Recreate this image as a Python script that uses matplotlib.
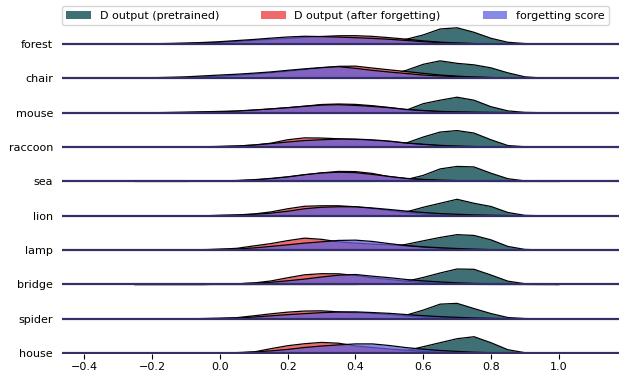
import matplotlib
matplotlib.use("Agg")
import matplotlib.pyplot as plt
from matplotlib.patches import Patch

X_GRID = [-0.25, -0.2, -0.15, -0.1, -0.05, 0.0, 0.05, 0.1, 0.15, 0.2, 0.25, 0.3, 0.35,
          0.4, 0.45, 0.5, 0.55, 0.6, 0.65, 0.7, 0.75, 0.8, 0.85, 0.9, 0.95, 1.0]

CLASSES = ["forest", "chair", "mouse", "raccoon", "sea", "lion", "lamp", "bridge", "spider", "house"]

PRETRAINED = {
    "forest":  [0, 0, 0, 0, 0, 0, 0, 0, 0, 0, 0, 0, 0, 0.2, 0.6, 1.6, 4.7, 9.0, 15.0, 16.2, 11.7, 5.7, 1.7, 0.4, 0.1, 0],
    "chair":   [0, 0, 0, 0, 0, 0, 0, 0, 0, 0, 0, 0, 0, 0.3, 1.0, 3.0, 8.0, 14.0, 17.5, 15.0, 13.5, 10.5, 5.5, 1.5, 0.3, 0],
    "mouse":   [0, 0, 0, 0, 0, 0, 0, 0, 0, 0, 0, 0, 0, 0, 0.3, 0.8, 2.5, 9.0, 12.5, 15.5, 12.5, 6.0, 1.8, 0.3, 0, 0],
    "raccoon": [0, 0, 0, 0, 0, 0, 0, 0, 0, 0, 0, 0, 0, 0, 0.5, 1.5, 4.0, 10.0, 15.0, 16.5, 14.0, 7.3, 1.5, 0.3, 0, 0],
    "sea":     [0, 0, 0, 0, 0, 0, 0, 0, 0, 0, 0, 0, 0, 0, 0, 0.5, 1.8, 6.0, 12.5, 15.0, 14.5, 8.2, 2.7, 0.5, 0, 0],
    "lion":    [0, 0, 0, 0, 0, 0, 0, 0, 0, 0, 0, 0, 0, 0, 0.5, 1.5, 3.8, 8.5, 12.5, 16.5, 12.5, 9.3, 3.3, 0.4, 0, 0],
    "lamp":    [0, 0, 0, 0, 0, 0, 0, 0, 0, 0, 0, 0, 0, 0.5, 1.3, 3.0, 5.8, 9.3, 12.7, 15.5, 14.7, 10.3, 3.7, 0.7, 0.2, 0],
    "bridge":  [0, 0, 0, 0, 0, 0, 0, 0, 0, 0, 0, 0, 0, 0, 0.4, 1.3, 3.2, 7.0, 11.5, 15.5, 15.2, 9.5, 3.3, 0.8, 0.3, 0],
    "spider":  [0, 0, 0, 0, 0, 0, 0, 0, 0, 0, 0, 0, 0, 0, 0.4, 1.2, 3.7, 8.7, 14.7, 15.5, 10.3, 5.3, 1.3, 0.3, 0, 0],
    "house":   [0, 0, 0, 0, 0, 0, 0, 0, 0, 0, 0, 0, 0, 0, 0, 0.5, 2.5, 6.5, 10.5, 14.5, 16.5, 10.5, 3.5, 0.5, 0, 0],
}

AFTER_FORGET = {
    "forest":  [0, 0.1, 0.3, 0.5, 0.9, 1.5, 2.4, 3.5, 4.5, 5.5, 6.5, 7.5, 8.2, 8.3, 7.6, 6.3, 4.8, 3.1, 1.8, 1.0, 0.4, 0.1, 0, 0, 0, 0],
    "chair":   [0.1, 0.2, 0.5, 0.8, 1.3, 2.0, 3.0, 4.0, 5.5, 7.0, 8.7, 10.5, 12.0, 12.2, 10.3, 8.5, 6.8, 5.0, 3.3, 2.2, 1.3, 0.8, 0.4, 0.2, 0, 0],
    "mouse":   [0, 0, 0.1, 0.2, 0.5, 0.8, 1.5, 2.5, 3.7, 5.0, 6.5, 8.2, 8.7, 8.3, 7.0, 5.2, 3.0, 1.8, 1.0, 0.5, 0.2, 0, 0, 0, 0, 0],
    "raccoon": [0, 0, 0, 0, 0.2, 0.5, 1.0, 2.0, 3.8, 7.3, 9.2, 9.0, 8.3, 7.5, 6.7, 5.5, 4.0, 2.5, 1.3, 0.6, 0.2, 0, 0, 0, 0, 0],
    "sea":     [0, 0, 0, 0, 0.1, 0.3, 0.7, 1.4, 2.6, 4.4, 6.5, 8.5, 10.0, 9.8, 8.0, 4.7, 2.9, 1.5, 0.8, 0.4, 0.1, 0, 0, 0, 0, 0],
    "lion":    [0, 0, 0, 0, 0, 0.3, 0.8, 1.8, 3.8, 7.0, 9.5, 10.0, 10.0, 9.0, 7.3, 5.3, 3.3, 1.8, 0.9, 0.4, 0.1, 0, 0, 0, 0, 0],
    "lamp":    [0, 0, 0, 0, 0.3, 0.9, 1.8, 4.2, 6.5, 9.5, 12.0, 10.8, 8.3, 7.0, 6.0, 5.2, 4.3, 2.8, 1.6, 0.8, 0.3, 0, 0, 0, 0, 0],
    "bridge":  [0, 0, 0, 0, 0, 0.2, 0.6, 1.5, 3.5, 6.7, 9.7, 10.8, 10.7, 9.0, 6.7, 5.0, 3.3, 2.0, 1.0, 0.4, 0.1, 0, 0, 0, 0, 0],
    "spider":  [0, 0, 0, 0, 0.3, 0.6, 1.2, 3.0, 5.0, 6.7, 7.8, 8.0, 7.0, 6.2, 5.3, 4.2, 3.0, 1.8, 0.9, 0.4, 0.1, 0, 0, 0, 0, 0],
    "house":   [0, 0, 0, 0, 0, 0, 0.2, 1.2, 4.5, 7.5, 9.5, 10.8, 10.0, 7.3, 5.7, 4.2, 3.0, 1.8, 1.0, 0.4, 0.1, 0, 0, 0, 0, 0],
}

FORGET_SCORE = {
    "forest":  [0, 0.2, 0.5, 0.9, 1.5, 2.3, 3.4, 4.5, 5.8, 7.0, 7.7, 7.4, 6.9, 6.3, 5.6, 4.7, 3.5, 2.3, 1.3, 0.7, 0.3, 0.1, 0, 0, 0, 0],
    "chair":   [0.3, 0.6, 1.0, 1.5, 2.4, 3.3, 4.1, 5.2, 6.4, 8.0, 9.5, 10.8, 11.7, 10.0, 8.0, 6.3, 4.8, 3.3, 2.4, 1.7, 1.2, 0.7, 0.4, 0.2, 0, 0],
    "mouse":   [0, 0, 0.2, 0.5, 0.9, 1.3, 1.7, 2.7, 3.8, 5.0, 6.4, 7.6, 8.0, 7.3, 6.3, 5.0, 3.3, 2.2, 1.3, 0.8, 0.5, 0.3, 0.1, 0, 0, 0],
    "raccoon": [0, 0, 0, 0.1, 0.3, 0.6, 1.0, 2.0, 3.5, 5.0, 6.5, 7.3, 8.0, 8.0, 7.2, 6.0, 4.0, 2.8, 1.7, 1.0, 0.5, 0.2, 0, 0, 0, 0],
    "sea":     [0, 0, 0, 0, 0.2, 0.5, 0.9, 1.7, 3.0, 4.6, 6.8, 8.5, 9.2, 8.8, 7.0, 5.0, 3.0, 2.0, 1.3, 0.8, 0.4, 0.2, 0, 0, 0, 0],
    "lion":    [0, 0, 0, 0, 0, 0.4, 0.7, 1.5, 2.6, 4.5, 7.0, 8.5, 9.0, 9.0, 7.8, 6.3, 4.7, 3.3, 2.2, 1.5, 0.9, 0.5, 0.2, 0, 0, 0],
    "lamp":    [0, 0, 0, 0.2, 0.5, 0.8, 1.2, 2.2, 3.7, 5.3, 7.0, 8.3, 9.7, 10.0, 8.7, 6.5, 4.6, 3.3, 2.4, 1.6, 1.0, 0.5, 0.2, 0, 0, 0],
    "bridge":  [0, 0, 0, 0, 0, 0.3, 0.7, 1.4, 2.2, 3.7, 5.4, 7.5, 9.3, 10.0, 8.3, 6.8, 5.0, 3.6, 2.5, 1.7, 1.0, 0.6, 0.3, 0.1, 0, 0],
    "spider":  [0, 0, 0, 0.1, 0.2, 0.4, 0.8, 1.8, 3.0, 4.2, 5.2, 6.2, 6.8, 7.0, 6.3, 5.5, 4.3, 3.2, 2.2, 1.5, 0.9, 0.5, 0.2, 0, 0, 0],
    "house":   [0, 0, 0, 0, 0, 0.3, 0.6, 1.3, 2.3, 3.8, 5.7, 7.2, 8.3, 9.3, 9.3, 7.7, 5.6, 4.0, 2.7, 1.8, 1.0, 0.5, 0.2, 0, 0, 0],
}

SERIES = [
    ("D output (pretrained)",       PRETRAINED,   "#3e7075", 1.0),
    ("D output (after forgetting)", AFTER_FORGET, "#ef6a6a", 1.0),
    ("forgetting score",            FORGET_SCORE, "#6060de", 0.75),
]

X_TICKS = [-0.4, -0.2, 0.0, 0.2, 0.4, 0.6, 0.8, 1.0]
ROW_GAP = 34.4


def main():
    fig = plt.figure(figsize=(6.19, 3.73), dpi=100)
    ax = fig.add_axes([62 / 619, 19 / 373, 1 - 62 / 619, (354 - 20) / 373])

    for i, name in enumerate(CLASSES):
        base = -i * ROW_GAP
        z = 2 + 3 * i
        for label, data, color, alpha in SERIES:
            ys = [base + v for v in data[name]]
            ax.fill_between(X_GRID, base, ys, color=color, alpha=alpha, lw=0, zorder=z)
            ax.plot(X_GRID, ys, color="black", lw=0.9, zorder=z)
        # row baseline sits over the fills, like the ridgeline floor
        ax.axhline(base, color="#332f68", lw=1.6, zorder=z + 1)

    ax.set_xlim(-0.466, 1.178)
    ax.set_ylim(-9 * ROW_GAP - 0.8, 24)
    ax.set_yticks([-i * ROW_GAP for i in range(len(CLASSES))])
    ax.set_yticklabels(CLASSES, fontsize=8)
    ax.tick_params(axis="y", length=0, pad=6.5)
    ax.set_xticks(X_TICKS)
    ax.set_xticklabels([f"{t:.1f}".replace("-", "\u2212") for t in X_TICKS], fontsize=8)
    ax.tick_params(axis="x", length=3.5, width=0.8, pad=2)
    for s in ax.spines.values():
        s.set_visible(False)

    handles = [Patch(facecolor=c, alpha=a, label=l) for l, _, c, a in SERIES]
    fig.legend(handles=handles, loc="lower left", ncol=3, mode="expand",
               bbox_to_anchor=(62 / 619, 1 - 25 / 373, (609 - 62) / 619, 21 / 373),
               fontsize=8, handlelength=2.2, borderaxespad=0.0, framealpha=0.8)

    fig.savefig("out.png", dpi=100)


if __name__ == "__main__":
    main()
